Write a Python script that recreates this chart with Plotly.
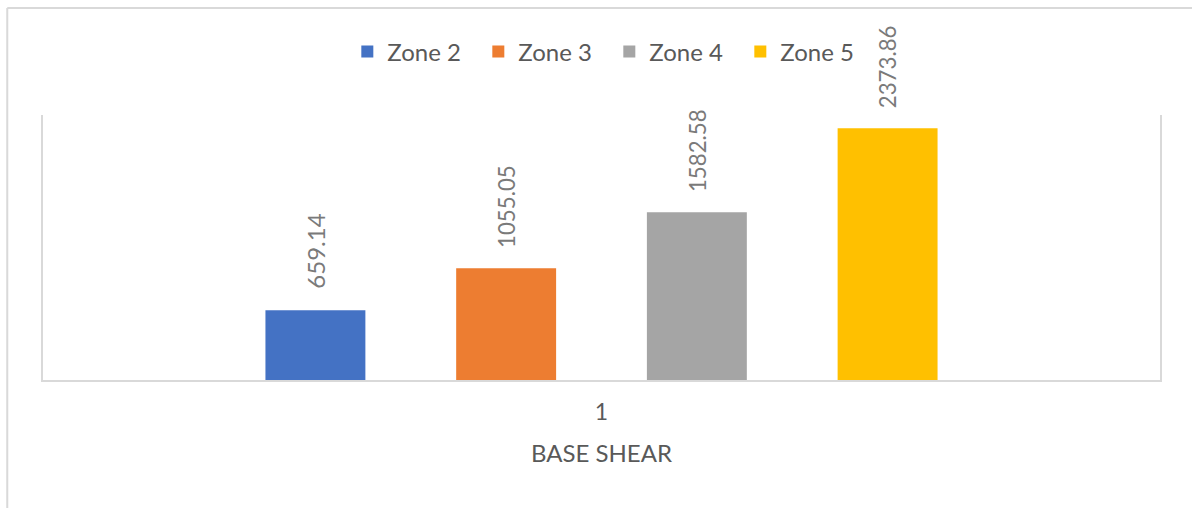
import plotly.graph_objects as go

# Base shear per seismic zone
category = ["1"]
zones = ["Zone 2", "Zone 3", "Zone 4", "Zone 5"]
base_shear = [659.14, 1055.05, 1582.58, 2373.86]
colors = ["#4472C4", "#ED7D31", "#A5A5A5", "#FFC000"]

FONT = "Lato, Calibri, sans-serif"
TEXT_GREY = "#595959"
LINE_GREY = "#D9D9D9"
LABEL_PAD = "\u00a0\u00a0\u00a0"

fig = go.Figure()
for name, val, col in zip(zones, base_shear, colors):
    fig.add_trace(go.Bar(
        x=category,
        y=[val],
        name=name,
        marker=dict(color=col, line=dict(width=0)),
        text=[f"{LABEL_PAD}{val:g}"],
        textposition="outside",
        textangle=-90,
        textfont=dict(family=FONT, size=24, color="#7A7A7A"),
        cliponaxis=False,
    ))

fig.update_layout(
    width=1192,
    height=508,
    margin=dict(l=43, r=32, t=115, b=128),
    paper_bgcolor="white",
    plot_bgcolor="white",
    barmode="group",
    bargap=0.317,
    bargroupgap=0.476,
    font=dict(family=FONT, size=23, color=TEXT_GREY),
    showlegend=True,
    legend=dict(
        orientation="h",
        x=0.507, xanchor="center",
        y=1.238, yanchor="middle",
        font=dict(family=FONT, size=24, color=TEXT_GREY),
        entrywidth=86,
        bgcolor="rgba(0,0,0,0)",
    ),
    xaxis=dict(
        type="category",
        showline=True,
        linecolor=LINE_GREY,
        linewidth=2,
        ticks="",
        showgrid=False,
        ticklabelstandoff=10,
        tickfont=dict(family=FONT, size=23, color=TEXT_GREY),
        title=dict(text="BASE SHEAR", font=dict(family=FONT, size=24, color=TEXT_GREY), standoff=22),
    ),
    yaxis=dict(
        range=[0, 2500],
        showline=True,
        mirror=True,
        linecolor=LINE_GREY,
        linewidth=2,
        showgrid=False,
        zeroline=False,
        showticklabels=False,
        ticks="",
    ),
)

# Chart-area border (top and left edges)
fig.add_shape(type="line", xref="paper", yref="paper",
              x0=-0.032, x1=1.1, y0=1.404, y1=1.404,
              line=dict(color=LINE_GREY, width=2))
fig.add_shape(type="line", xref="paper", yref="paper",
              x0=-0.032, x1=-0.032, y0=-0.6, y1=1.404,
              line=dict(color=LINE_GREY, width=2))

fig.write_html("out.html")
